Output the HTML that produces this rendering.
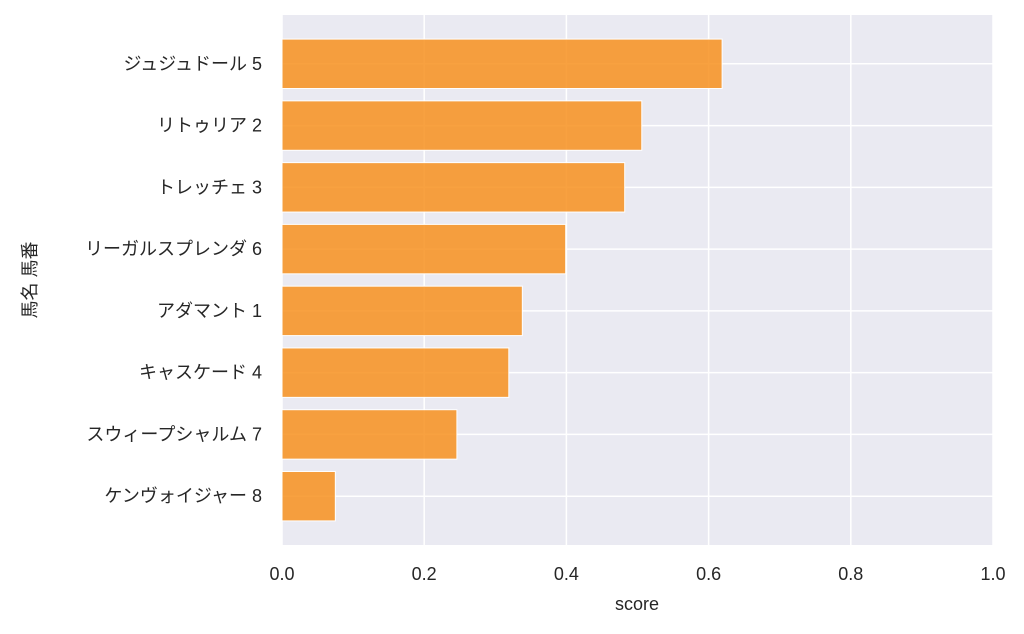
<!DOCTYPE html>
<html><head><meta charset="utf-8"><style>
body{margin:0;background:#fff;}
svg text{font-family:"Liberation Sans","Noto Sans CJK JP",sans-serif;fill:#262626;}
</style></head><body>
<svg width="1024" height="629" viewBox="0 0 1024 629">
<rect x="282" y="15" width="711" height="530" fill="#EAEAF2"/>
<g id="grid"></g><g id="bars"></g><g id="yt"></g><g id="xt"></g>
<text x="637" y="610" font-size="18" text-anchor="middle">score</text>
<text transform="translate(36,280) rotate(-90)" font-size="18" text-anchor="middle">馬名 馬番</text>
</svg>
<script>
const categories=["ジュジュドール 5","リトゥリア 2","トレッチェ 3","リーガルスプレンダ 6","アダマント 1","キャスケード 4","スウィープシャルム 7","ケンヴォイジャー 8"];
const values=[0.619,0.506,0.482,0.399,0.338,0.319,0.246,0.075];
const xTicks=[0,0.2,0.4,0.6,0.8,1.0];
const xTickLabels=["0.0","0.2","0.4","0.6","0.8","1.0"];
const NS="http://www.w3.org/2000/svg";
const x0=282,x1=993,yTop=15,yBot=545;
const n=categories.length;
const step=(yBot-yTop)/(n-1+1+0.1*(n-1+1)*0+0.0+ (0.8*0+0));
function xs(v){return x0+v*(x1-x0);}
// bar band: range from -0.4 to n-1+0.4 with 5% margins
const lo=-0.4,hi=n-1+0.4,span=hi-lo,m=0.05*span;
function ys(i){return yTop+(i-(lo-m))/(span+2*m)*(yBot-yTop);}
const ppu=(yBot-yTop)/(span+2*m);
function mk(t,a,p){const e=document.createElementNS(NS,t);for(const k in a)e.setAttribute(k,a[k]);p.appendChild(e);return e;}
const grid=document.getElementById('grid'),bars=document.getElementById('bars'),yt=document.getElementById('yt'),xt=document.getElementById('xt');
xTicks.forEach((v,i)=>{
 const l=mk('line',{x1:xs(v),x2:xs(v),y1:yTop,y2:yBot,stroke:'#fff','stroke-width':1.5},grid);
 
 
 const t=mk('text',{x:xs(v),y:yBot+35,'font-size':18,'text-anchor':'middle'},xt);
 t.textContent=xTickLabels[i];
 
 
});
categories.forEach((c,i)=>{
 const y=ys(i);
 const l=mk('line',{x1:x0,x2:x1,y1:y,y2:y,stroke:'#fff','stroke-width':1.5},grid);
 
 
 const r=mk('rect',{x:x0,y:y-0.4*ppu,width:xs(values[i])-x0,height:0.8*ppu,fill:'#F7901E','fill-opacity':0.85,stroke:'#fff','stroke-width':1},bars);
 
 
 const t=mk('text',{x:x0-20,y:y+6,'font-size':18,'text-anchor':'end'},yt);
 t.textContent=c;
 
 
});
</script>
</body></html>
